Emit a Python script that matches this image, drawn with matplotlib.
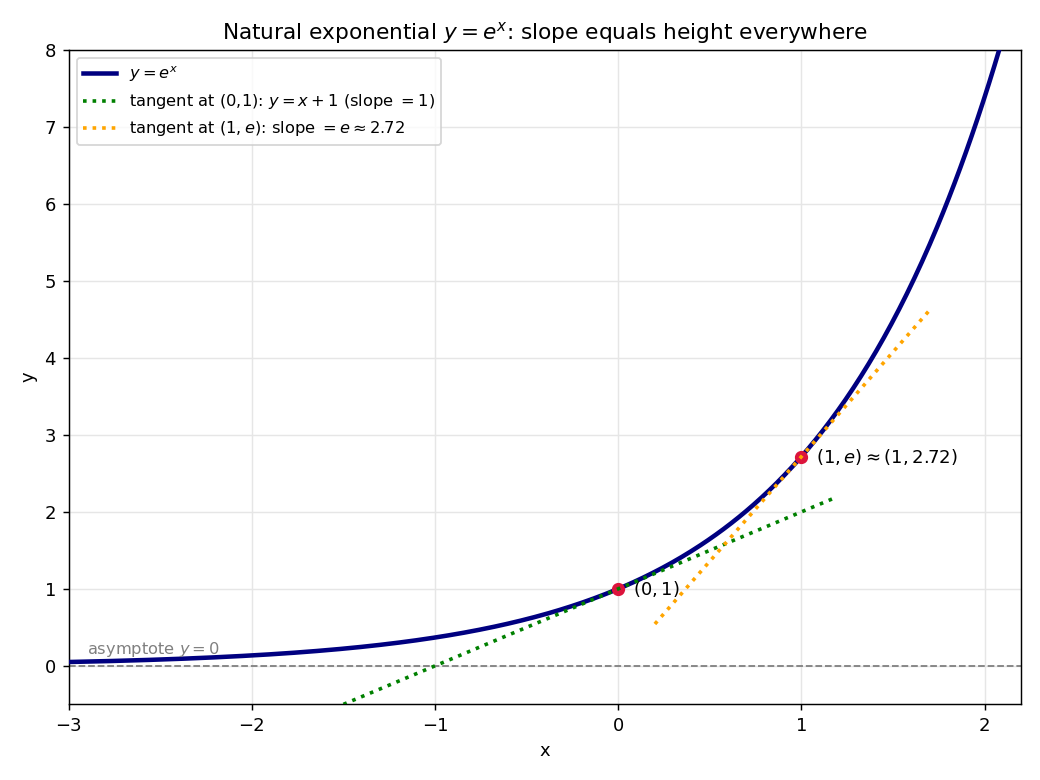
import numpy as np
import matplotlib.pyplot as plt

# plotted function and tangent points
x_range = [-3.0, 2.2]
y_range = [-0.5, 8.0]
tangent_x = [0.0, 1.0]          # points of tangency
tangent1_span = [-1.5, 1.18]    # x-extent of tangent at (0,1)
tangent2_span = [0.2, 1.7]      # x-extent of tangent at (1,e)
point_labels = ['$(0,1)$', '$(1,e)\\approx(1,2.72)$']


def main():
	fig = plt.figure(figsize=(8, 6), dpi=130)
	ax = fig.add_axes([0.066, 0.097, 0.916, 0.839])

	xs = np.linspace(x_range[0], x_range[1], 500)
	ax.plot(xs, np.exp(xs), color='navy', lw=2.5, label='$y=e^x$', zorder=3)

	x1 = np.array(tangent1_span)
	ax.plot(x1, x1 + 1, color='green', ls=':', lw=2,
		label='tangent at (0,1): $y=x+1$ (slope $=1$)', zorder=4)
	x2 = np.array(tangent2_span)
	ax.plot(x2, np.e * x2, color='orange', ls=':', lw=2,
		label='tangent at $(1,e)$: slope $=e\\approx2.72$', zorder=4)

	ax.axhline(0, color='gray', ls='--', lw=1, zorder=1)
	ax.text(-2.9, 0.15, 'asymptote $y=0$', color='gray', fontsize=9)

	px = np.array(tangent_x)
	ax.scatter(px, np.exp(px), s=40, color='crimson', zorder=3.5)
	for xp, lab in zip(px, point_labels):
		ax.annotate(lab, (xp, np.exp(xp)), xytext=(8, 0), textcoords='offset points',
			va='center', fontsize=10)

	ax.set_xlim(*x_range)
	ax.set_ylim(*y_range)
	ax.grid(True, color='#e6e6e6', lw=0.8)
	ax.set_axisbelow(True)
	ax.set_xlabel('x')
	ax.set_ylabel('y')
	ax.set_title('Natural exponential $y=e^x$: slope equals height everywhere', fontsize=12)
	ax.legend(loc='upper left', fontsize=9)
	fig.savefig('out.png')


if __name__ == '__main__':
	main()
